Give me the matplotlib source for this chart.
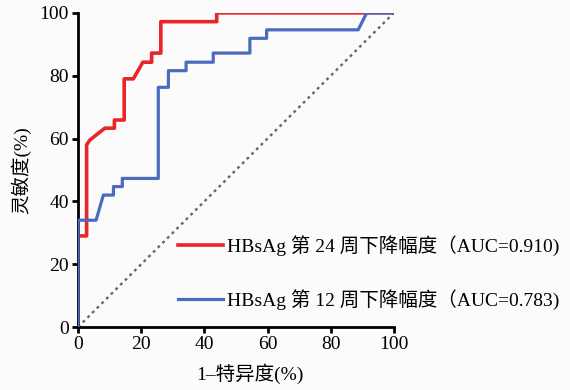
import numpy as np
import matplotlib
matplotlib.use('Agg')
import matplotlib.pyplot as plt

plt.rcParams['font.family'] = ['Liberation Serif', 'Noto Sans CJK SC']

# ROC curve vertices, in %
wk24_x = [0, 0, 2.7, 2.7, 3.8, 8.5, 11.5, 11.5, 14.6, 14.6, 17.5, 20.5, 23.3, 23.3, 26.2, 26.2, 43.9, 43.9, 100]
wk24_y = [0, 29, 29, 58, 59.6, 63.3, 63.3, 65.9, 65.9, 79, 79, 84.3, 84.3, 87.2, 87.2, 97.2, 97.2, 100, 100]

wk12_x = [0, 0, 5.7, 8, 11.2, 11.2, 14, 14, 25.4, 25.4, 28.6, 28.6, 34.2, 34.2, 42.8, 42.8,
          54.4, 54.4, 59.7, 59.7, 88.7, 91.4, 100]
wk12_y = [0, 34, 34, 42, 42, 44.7, 44.7, 47.3, 47.3, 76.3, 76.3, 81.6, 81.6, 84.3, 84.3, 87.2,
          87.2, 91.9, 91.9, 94.6, 94.6, 100, 100]

labels = ['HBsAg 第 24 周下降幅度（AUC=0.910)', 'HBsAg 第 12 周下降幅度（AUC=0.783)']
ticks = [0, 20, 40, 60, 80, 100]

fig = plt.figure(figsize=(5.7, 3.9), dpi=100, facecolor='#fbfbfb')
ax = fig.add_axes([0.137, 0.1615, 0.554, 0.8055])
ax.set_facecolor('#fbfbfb')

ax.plot([0, 100], [0, 100], color='#666666', lw=1.7, ls=(0, (1.2, 1.6)), zorder=1)
ax.plot(wk24_x, wk24_y, color='#E8262A', lw=2.6, label=labels[0], zorder=2)
ax.plot(wk12_x, wk12_y, color='#4A6BC0', lw=2.3, label=labels[1], zorder=3)

ax.set_xlim(0, 100)
ax.set_ylim(0, 100)
ax.set_xticks(ticks)
ax.set_yticks(ticks)
ax.tick_params(direction='out', length=4.5, width=2.0, labelsize=14, pad=2)
for s in ['top', 'right']:
    ax.spines[s].set_visible(False)
for s in ['left', 'bottom']:
    ax.spines[s].set_linewidth(2.0)
ax.set_xlabel('1–特异度(%)', fontsize=14, labelpad=0)
ax.xaxis.set_label_coords(0.545, -0.115)
ax.set_ylabel('灵敏度(%)', fontsize=14, labelpad=6)

ax.legend(loc='upper left', bbox_to_anchor=(178 / 570, 1 - 235 / 390),
          bbox_transform=fig.transFigure, frameon=False, fontsize=14,
          handlelength=2.3, handletextpad=0.2, labelspacing=1.7, borderpad=0,
          borderaxespad=0)

fig.savefig('out.png', dpi=100, facecolor=fig.get_facecolor())
